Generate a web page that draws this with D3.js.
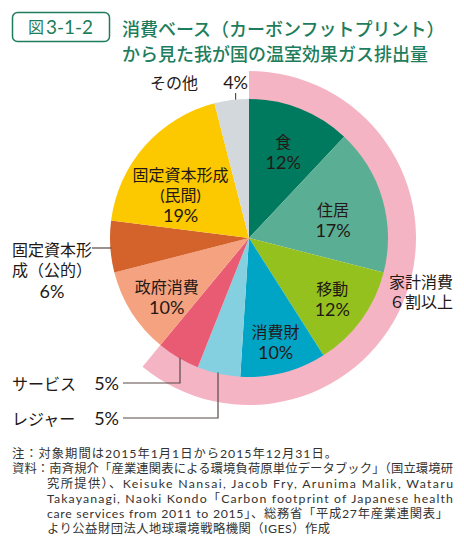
<!DOCTYPE html>
<html><head><meta charset="utf-8">
<script src="https://cdn.jsdelivr.net/npm/d3@7/dist/d3.min.js"></script>
<style>
html,body{margin:0;padding:0;background:#fff;}
svg{display:block;}
text{font-family:Lato,"Noto Sans CJK JP",sans-serif;}
</style></head>
<body>
<svg id="chart" width="464" height="553"></svg>
<script>
// ---- data ----
const categories = ["食","住居","移動","消費財","レジャー","サービス","政府消費","固定資本形成（公的）","固定資本形成（民間）","その他"];
const values = [12,17,12,10,5,5,10,6,19,4];
const householdCount = 6; // first six categories = 家計消費
const innerLabelLines = [["食"],["住居"],["移動"],["消費財"],null,null,["政府消費"],null,["固定資本形成","(民間)"],null];
const titleLines = ["消費ベース（カーボンフットプリント）","から見た我が国の温室効果ガス排出量"];
const figNo = ["図","3-1-2"];
const householdLabel = ["家計消費","６割以上"];
const noteLines = [
  "注：対象期間は2015年1月1日から2015年12月31日。",
  "資料：南斉規介「産業連関表による環境負荷原単位データブック」（国立環境研",
  "究所提供）、Keisuke Nansai, Jacob Fry, Arunima Malik, Wataru",
  "Takayanagi, Naoki Kondo「Carbon footprint of Japanese health",
  "care services from 2011 to 2015」、総務省「平成27年産業連関表」",
  "より公益財団法人地球環境戦略機関（IGES）作成"
];

// ---- styles / layout ----
const colors = ["#007a5e","#5aae93","#95c11f","#00a4c5","#84d0e0","#e85b73","#f4a27f","#d3622b","#fcc900","#d3d8dd"];
const ringColor = "#f4b4c3";
const green = "#1d7d5c";
const ink = "#231815";
const lineCol = "#594a47";
const cx = 249, cy = 238, R = 139, ringR = 167;
const labelR = [93,86,103,107,0,0,101,0,81,0];
const labelShift = [0,4,0,0,0,0,-3,0,-9,0];
const labelAnchor = ["middle","middle","middle","middle",null,null,"middle",null,"middle",null];
const lh = 20.5, pctSize = 18, txtSize = 16;

const svg = d3.select("#chart");

// title
svg.append("rect").attr("x",12.5).attr("y",12.5).attr("width",97).attr("height",29).attr("rx",5)
  .attr("fill","#fff").attr("stroke",green).attr("stroke-width",1.5);
svg.append("text").attr("x",28).attr("y",26).attr("dominant-baseline","central")
  .attr("font-size",16).attr("fill",green).text(figNo[0]);
svg.append("text").attr("x",46).attr("y",25.5).attr("dominant-baseline","central")
  .attr("font-size",20).attr("fill",green).attr("textLength",47).attr("lengthAdjust","spacingAndGlyphs").text(figNo[1]);
titleLines.forEach((t,i)=>{
  svg.append("text").attr("x",122).attr("y",28.5+i*25).attr("dominant-baseline","central")
    .attr("font-size",18).attr("font-weight",500).attr("fill",green).text(t);
});

// pie
const pie = d3.pie().sort(null).value(d=>d)(values);
const g = svg.append("g").attr("transform",`translate(${cx},${cy})`);

// household ring
const houseEnd = pie[householdCount-1].endAngle;
g.append("path").attr("d", d3.arc().innerRadius(R-1).outerRadius(ringR).startAngle(0).endAngle(houseEnd)()).attr("fill",ringColor);

const arc = d3.arc().innerRadius(0).outerRadius(R);
g.selectAll("path.slice").data(pie).join("path").attr("class","slice")
  .attr("d",arc).attr("fill",(d,i)=>colors[i]);

// inner labels
pie.forEach((d,i)=>{
  const lines = innerLabelLines[i];
  if(!lines) return;
  const all = lines.concat([values[i]+"%"]);
  const a = (d.startAngle+d.endAngle)/2 + labelShift[i]*Math.PI/180;
  const x = labelR[i]*Math.sin(a);
  const y = -labelR[i]*Math.cos(a);
  all.forEach((s,k)=>{
    g.append("text").attr("text-anchor",labelAnchor[i]).attr("font-size",k===all.length-1?pctSize:txtSize).attr("fill",ink)
      .attr("x",x).attr("y",y + (k-(all.length-1)/2)*lh).attr("dominant-baseline","central").text(s);
  });
});

// helpers for leader lines (points on circle)
const edgeXAtY = (y, side) => cx + side*Math.sqrt(R*R-(y-cy)*(y-cy));
const edgeYAtX = (x, side) => cy + side*Math.sqrt(R*R-(x-cx)*(x-cx));

// その他 4%
const otherIdx = 9;
const otherMid = (pie[otherIdx].startAngle+pie[otherIdx].endAngle)/2;
const otherX = cx + R*Math.sin(otherMid) + 4;
svg.append("text").attr("x",150).attr("y",82).attr("dominant-baseline","central").attr("font-size",txtSize).attr("fill",ink).text(categories[otherIdx]);
svg.append("text").attr("x",otherX).attr("y",82).attr("text-anchor","middle").attr("dominant-baseline","central").attr("font-size",pctSize).attr("fill",ink).text(values[otherIdx]+"%");
svg.append("line").attr("x1",otherX).attr("x2",otherX).attr("y1",93).attr("y2",edgeYAtX(otherX,-1)).attr("stroke",lineCol).attr("stroke-width",1.2);

// 固定資本形成（公的）
const pubIdx = 7;
const pubY = 248;
[["固定資本形",12,249,"start",txtSize],["成（公的）",12,269.5,"start",txtSize],[values[pubIdx]+"%",52,290.5,"middle",pctSize]].forEach(([s,x,y,anc,fs])=>{
  svg.append("text").attr("x",x).attr("y",y).attr("text-anchor",anc).attr("dominant-baseline","central")
    .attr("font-size",fs).attr("fill",ink).text(s);
});
svg.append("line").attr("x1",92).attr("x2",edgeXAtY(pubY,-1)+1).attr("y1",pubY).attr("y2",pubY).attr("stroke",lineCol).attr("stroke-width",1.2);

// サービス / レジャー
[[5,383,180],[4,418,218]].forEach(([idx,y,vx])=>{
  svg.append("text").attr("x",12).attr("y",y).attr("dominant-baseline","central").attr("font-size",txtSize).attr("fill",ink).text(categories[idx]);
  svg.append("text").attr("x",119).attr("y",y).attr("text-anchor","end").attr("dominant-baseline","central").attr("font-size",pctSize).attr("fill",ink).text(values[idx]+"%");
  svg.append("polyline").attr("points",`123,${y} ${vx},${y} ${vx},${edgeYAtX(vx,1)-1}`)
    .attr("fill","none").attr("stroke",lineCol).attr("stroke-width",1.2);
});

// 家計消費
householdLabel.forEach((s,i)=>{
  svg.append("text").attr("x",453).attr("y",281+i*20).attr("text-anchor","end").attr("dominant-baseline","central")
    .attr("font-size",txtSize).attr("fill",ink).text(s);
});

// notes
const noteX = [12,12,47,47,47,47];
const noteLen = [325,441,406,406,401,283];
noteLines.forEach((s,i)=>{
  svg.append("text").attr("x",noteX[i]).attr("y",453+i*15).attr("dominant-baseline","central")
    .attr("font-size",12.3).attr("fill","#333").attr("textLength",noteLen[i]).attr("lengthAdjust","spacing").text(s);
});
</script>
</body></html>
